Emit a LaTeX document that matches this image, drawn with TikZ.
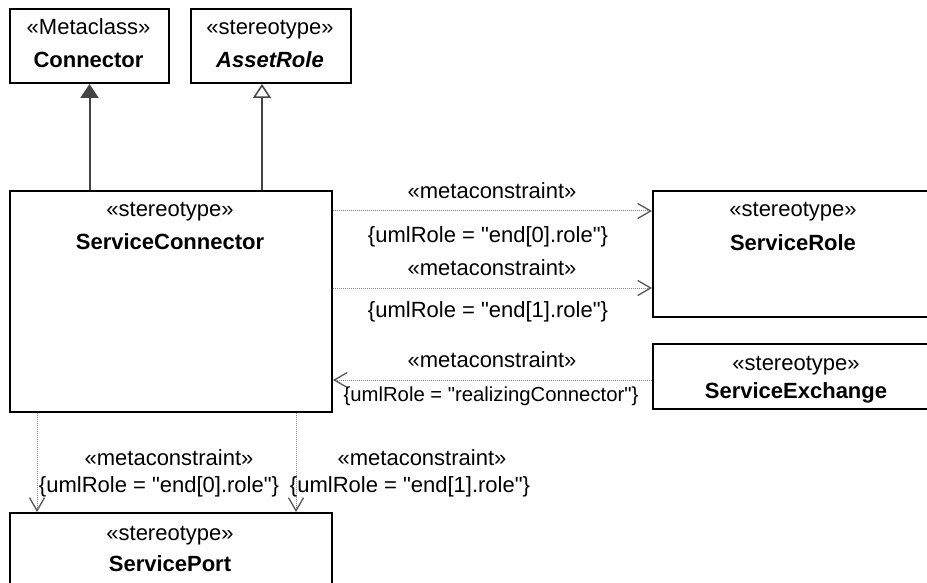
\documentclass[tikz,border=0pt]{standalone}
\usepackage{fontspec}
\setmainfont{Liberation Sans}[Ligatures=TeXOff]
\usetikzlibrary{arrows.meta,calc}
\definecolor{linegray}{HTML}{444444}
\definecolor{dotgray}{HTML}{8A8A8A}
\definecolor{tipgray}{HTML}{555555}

\begin{document}
\begin{tikzpicture}[x=1pt, y=-1pt,
  every node/.style={font=\fontsize{22}{26}\selectfont, inner sep=0pt},
  cls/.style={draw=black, line width=2pt, anchor=north west, fill=white},
  txt/.style={anchor=base},
  gen/.style={line width=2pt, draw=linegray, -{Triangle[width=18pt,length=14pt,fill=linegray]}},
  genopen/.style={line width=2pt, draw=linegray, -{Triangle[width=18pt,length=14pt,fill=white,line width=1.5pt]}},
  dep/.style={draw=dotgray, line width=1pt, densely dotted, -{Straight Barb[length=13pt,width=15pt,line width=1.3pt,color=tipgray]}}]
  \useasboundingbox (0,0) rectangle (927,583);
  % Classes
  \node[cls, minimum width=159pt, minimum height=74pt] (connector) at (9,8) {};
  \node[cls, minimum width=160pt, minimum height=74pt] (asset) at (190,8) {};
  \node[cls, minimum width=322pt, minimum height=221pt] (sconn) at (9,190) {};
  \node[cls, minimum width=282pt, minimum height=126pt] (srole) at (652,190) {};
  \node[cls, minimum width=282pt, minimum height=65pt] (sexch) at (652,343) {};
  \node[cls, minimum width=322pt, minimum height=80pt] (sport) at (9,512) {};
  % Class names
  \node[txt] (connectorS) at (88.5,35) {«Metaclass»};
  \node[txt] (connectorN) at (88.5,68) {\textbf{Connector}};
  \node[txt] (assetS) at (270,35) {«stereotype»};
  \node[txt] (assetN) at (270,68) {\textbf{\textit{AssetRole}}};
  \node[txt] (sconnS) at (170,217) {«stereotype»};
  \node[txt] (sconnN) at (170,249) {\textbf{ServiceConnector}};
  \node[txt] (sroleS) at (793,216) {«stereotype»};
  \node[txt] (sroleN) at (793,250) {\textbf{ServiceRole}};
  \node[txt] (sexchS) at (796,370) {«stereotype»};
  \node[txt] (sexchN) at (796,398) {\textbf{ServiceExchange}};
  \node[txt] (sportS) at (170,540) {«stereotype»};
  \node[txt] (sportN) at (170,571) {\textbf{ServicePort}};
  % Generalizations
  \coordinate (assetfoot) at ($(asset.south)+(-9,0)$);
  \draw[gen] (connector.south |- sconn.north) -- (connector.south);
  \draw[genopen] (assetfoot |- sconn.north) -- (assetfoot);
  % Metaconstraints to the right
  \draw[dep] (sconn.east |- 0,211) -- (srole.west |- 0,211);
  \node[txt] (dep1S) at (492,199) {«metaconstraint»};
  \node[txt] (dep1C) at (488,242) {\{umlRole = "end[0].role"\}};
  \draw[dep] (sconn.east |- 0,288) -- (srole.west |- 0,288);
  \node[txt] (dep2S) at (492,275) {«metaconstraint»};
  \node[txt] (dep2C) at (488,317) {\{umlRole = "end[1].role"\}};
  \draw[dep] (sexch.west |- 0,380) -- (sconn.east |- 0,380);
  \node[txt] (dep3S) at (492,367) {«metaconstraint»};
  \node[txt, font=\fontsize{20.3}{24}\selectfont] (dep3C) at (491,401) {\{umlRole = "realizingConnector"\}};
  % Metaconstraints down to the port
  \draw[dep] (sconn.south -| 37,0) -- (sport.north -| 37,0);
  \node[txt] (dep4S) at (169,465) {«metaconstraint»};
  \node[txt] (dep4C) at (159,492) {\{umlRole = "end[0].role"\}};
  \draw[dep] (sconn.south -| 296,0) -- (sport.north -| 296,0);
  \node[txt] (dep5S) at (422,465) {«metaconstraint»};
  \node[txt] (dep5C) at (410,492) {\{umlRole = "end[1].role"\}};
\end{tikzpicture}
\end{document}
